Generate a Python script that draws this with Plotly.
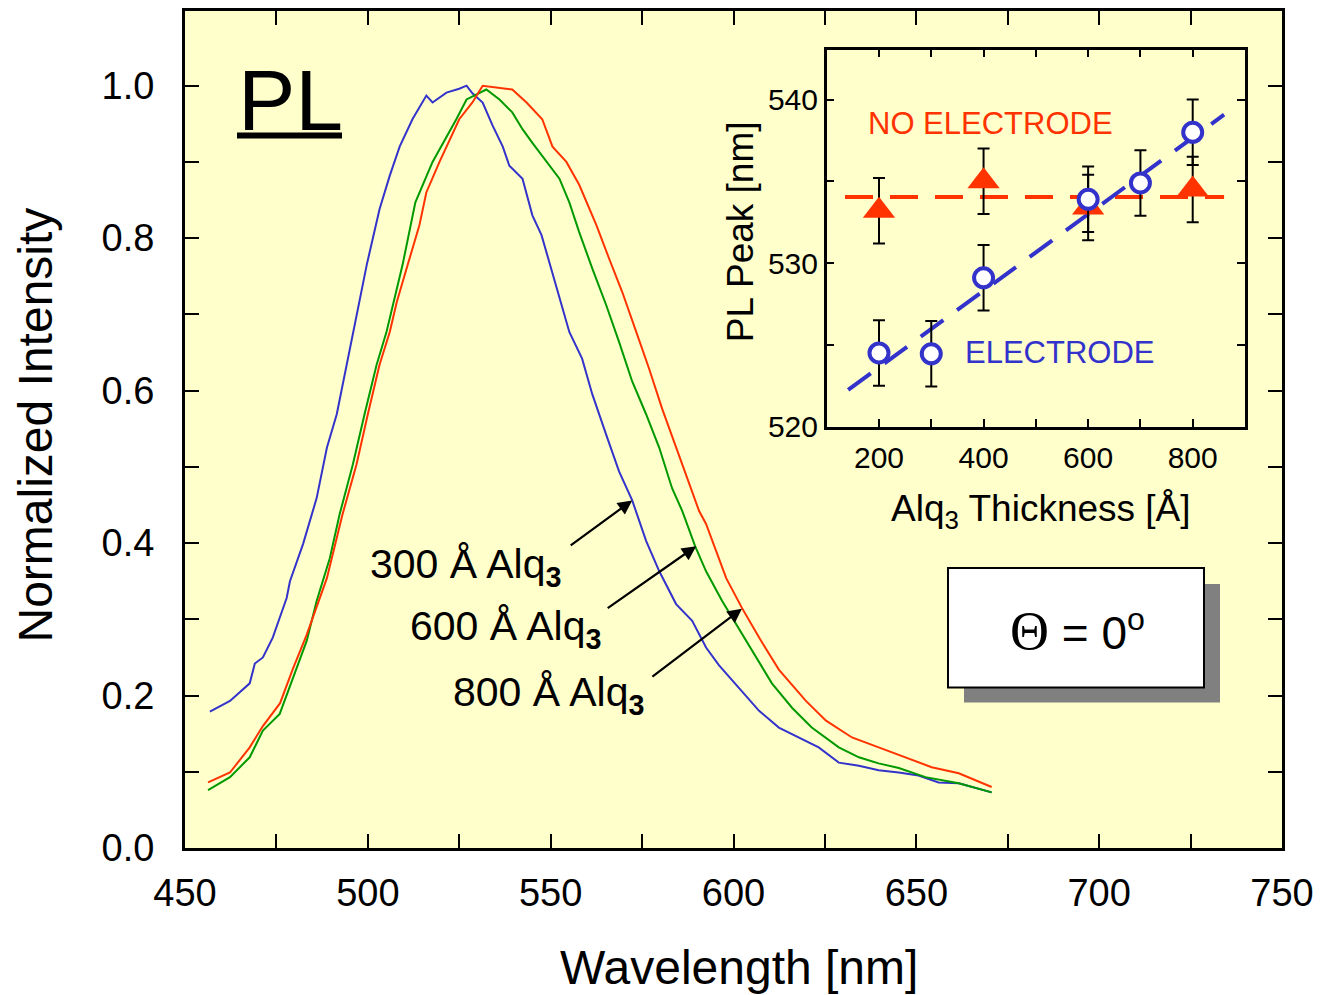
import plotly.graph_objects as go

# ---------------- data ----------------
wl_300 = [456.8, 462.3, 467.7, 469.1, 471.3, 474.0, 475.9, 477.8, 478.7, 482.3, 486.0, 488.8, 491.5,
          494.2, 496.9, 499.7, 503.2, 506.0, 508.7, 512.2, 516.0, 517.7, 521.5, 525.0, 527.0, 528.6,
          531.4, 534.1, 536.9, 538.7, 542.3, 545.0, 547.5, 551.0, 555.1, 558.6, 561.4, 565.2, 568.7,
          572.3, 576.1, 579.7, 584.3, 588.7, 592.5, 596.0, 601.5, 607.0, 612.4, 617.9, 623.3, 628.8,
          634.3, 639.7, 645.2, 650.6, 656.1, 661.6, 670.6]
int_300 = [0.179, 0.193, 0.216, 0.242, 0.250, 0.276, 0.302, 0.328, 0.350, 0.399, 0.459, 0.525, 0.569,
           0.634, 0.699, 0.765, 0.838, 0.882, 0.920, 0.956, 0.987, 0.978, 0.991, 0.996, 1.000, 0.990,
           0.978, 0.948, 0.920, 0.895, 0.878, 0.830, 0.804, 0.745, 0.677, 0.642, 0.595, 0.542, 0.494,
           0.456, 0.403, 0.363, 0.320, 0.298, 0.263, 0.240, 0.210, 0.180, 0.158, 0.145, 0.132, 0.112,
           0.108, 0.102, 0.099, 0.095, 0.086, 0.085, 0.073]

wl_600 = [456.3, 462.3, 467.7, 471.3, 475.9, 479.5, 483.3, 486.0, 489.6, 492.3, 495.9, 499.1, 502.4,
          505.1, 509.5, 513.0, 517.7, 524.2, 527.0, 532.4, 536.0, 539.5, 542.3, 545.0, 548.8, 552.4,
          555.1, 557.8, 561.4, 565.2, 568.7, 572.3, 576.1, 579.7, 583.2, 586.0, 589.5, 592.5, 596.9,
          602.3, 606.0, 610.5, 616.0, 621.4, 628.8, 634.3, 639.7, 645.2, 652.5, 661.6, 670.6]
int_600 = [0.076, 0.093, 0.119, 0.154, 0.176, 0.224, 0.272, 0.324, 0.380, 0.438, 0.503, 0.569, 0.634,
           0.677, 0.765, 0.847, 0.900, 0.956, 0.982, 0.995, 0.982, 0.965, 0.943, 0.925, 0.900, 0.878,
           0.847, 0.808, 0.760, 0.712, 0.664, 0.612, 0.569, 0.525, 0.472, 0.442, 0.396, 0.363, 0.324,
           0.281, 0.250, 0.216, 0.184, 0.158, 0.132, 0.119, 0.111, 0.105, 0.093, 0.085, 0.073]

wl_800 = [456.3, 462.3, 467.7, 471.3, 476.0, 479.5, 483.3, 486.5, 488.8, 493.1, 496.9, 500.0, 503.2,
          506.0, 507.9, 510.9, 514.1, 516.0, 519.6, 525.0, 528.6, 531.4, 535.0, 539.5, 543.4, 547.7,
          550.5, 554.3, 557.8, 562.5, 566.0, 569.6, 573.4, 576.9, 580.5, 584.3, 587.9, 590.6, 592.5,
          598.0, 602.3, 607.0, 612.4, 619.8, 625.3, 632.4, 639.7, 647.1, 654.2, 661.6, 670.6]
int_800 = [0.086, 0.099, 0.132, 0.160, 0.190, 0.235, 0.280, 0.324, 0.354, 0.438, 0.503, 0.569, 0.634,
           0.677, 0.716, 0.765, 0.817, 0.860, 0.900, 0.956, 0.978, 1.000, 0.998, 0.995, 0.978, 0.956,
           0.920, 0.900, 0.870, 0.817, 0.773, 0.729, 0.677, 0.629, 0.576, 0.525, 0.476, 0.442, 0.425,
           0.354, 0.315, 0.276, 0.234, 0.193, 0.167, 0.145, 0.132, 0.119, 0.106, 0.098, 0.080]

# inset: PL peak vs Alq3 thickness
thick_electrode = [200, 300, 400, 600, 700, 800]
peak_electrode = [524.5, 524.45, 529.1, 533.9, 534.9, 538.0]
err_electrode = [2, 2, 2, 2, 2, 2]
thick_noelectrode = [200, 400, 600, 800]
peak_noelectrode = [533.2, 535.0, 533.4, 534.5]
err_noelectrode = [2, 2, 2, 2]
fit_noel_x = [135, 860]
fit_noel_y = [534.04, 534.04]
fit_el_x = [141, 860]
fit_el_y = [522.24, 539.08]

# curve labels: (arrow head wavelength, intensity) and text
label_texts = ["300 Å Alq<sub><b>3</b></sub>", "600 Å Alq<sub><b>3</b></sub>", "800 Å Alq<sub><b>3</b></sub>"]
arrow_heads_wl = [572.3, 589.8, 602.3]
arrow_heads_int = [0.456, 0.396, 0.314]

BLUE = "#3333CC"
GREEN = "#009900"
RED = "#FF3300"
FONT = "Arial, Liberation Sans, sans-serif"

W, H = 1322, 995
L, R, T, B = 185, 40, 8, 147
PW, PH = W - L - R, H - T - B


def px(x):
    return (x - L) / PW


def py(y):
    return (H - B - y) / PH


fig = go.Figure()
for wl, it, c in [(wl_300, int_300, BLUE), (wl_600, int_600, GREEN), (wl_800, int_800, RED)]:
    fig.add_trace(go.Scatter(x=wl, y=it, mode="lines", line=dict(color=c, width=2),
                             showlegend=False, xaxis="x", yaxis="y"))

# inset traces
fig.add_trace(go.Scatter(x=fit_noel_x, y=fit_noel_y, mode="lines",
                         line=dict(color=RED, width=4, dash="28px,17px"),
                         showlegend=False, xaxis="x2", yaxis="y2"))
fig.add_trace(go.Scatter(x=fit_el_x, y=fit_el_y, mode="lines",
                         line=dict(color=BLUE, width=4, dash="28px,17px"),
                         showlegend=False, xaxis="x2", yaxis="y2"))
fig.add_trace(go.Scatter(x=thick_noelectrode, y=peak_noelectrode, mode="markers",
                         marker=dict(symbol="triangle-up", size=28, color=RED, line=dict(width=0)),
                         error_y=dict(type="data", array=err_noelectrode, color="black", thickness=2, width=6),
                         showlegend=False, xaxis="x2", yaxis="y2"))
fig.add_trace(go.Scatter(x=thick_electrode, y=peak_electrode, mode="markers",
                         marker=dict(symbol="circle", size=19, color="white", line=dict(color=BLUE, width=4)),
                         error_y=dict(type="data", array=err_electrode, color="black", thickness=2, width=6),
                         showlegend=False, xaxis="x2", yaxis="y2"))

axis_common = dict(showline=True, linecolor="black", mirror="ticks", ticks="inside",
                   showgrid=False, zeroline=False, tickcolor="black")

inset_x0, inset_x1 = px(826.7), px(1245)
inset_y0, inset_y1 = py(425), py(46.7)

fig.update_layout(
    width=W, height=H,
    margin=dict(l=L, r=R, t=T, b=B),
    paper_bgcolor="white",
    plot_bgcolor="#FFFFCC",
    font=dict(family=FONT, color="black"),
    xaxis=dict(range=[450, 750], dtick=50, tick0=450, ticklen=14, tickwidth=2, linewidth=3,
               tickfont=dict(size=38), ticklabelstandoff=9,
               minor=dict(dtick=25, ticklen=14, tickwidth=2, ticks="inside", tickcolor="black"),
               **axis_common),
    yaxis=dict(range=[0, 1.098], dtick=0.2, tick0=0, tickformat=".1f", ticklen=14, tickwidth=2, linewidth=3,
               tickfont=dict(size=38), ticklabelstandoff=20,
               minor=dict(dtick=0.1, ticklen=14, tickwidth=2, ticks="inside", tickcolor="black"),
               **axis_common),
    xaxis2=dict(domain=[inset_x0, inset_x1], anchor="y2", range=[100, 900], dtick=200, tick0=200,
                ticklen=8, tickwidth=2, linewidth=2.5, tickfont=dict(size=30), ticklabelstandoff=3,
                minor=dict(dtick=100, ticklen=8, tickwidth=2, ticks="inside", tickcolor="black"),
                **axis_common),
    yaxis2=dict(domain=[inset_y0, inset_y1], anchor="x2", range=[520, 543.06], dtick=10, tick0=520,
                ticklen=8, tickwidth=2, linewidth=2.5, tickfont=dict(size=30), ticklabelstandoff=0,
                minor=dict(dtick=5, ticklen=8, tickwidth=2, ticks="inside", tickcolor="black"),
                **axis_common),
)

shapes = [
    # white inset background
    dict(type="rect", xref="x2 domain", yref="y2 domain", x0=0, x1=1, y0=0, y1=1,
         fillcolor="white", line=dict(width=0), layer="below"),
    # PL underline
    dict(type="line", xref="paper", yref="paper", x0=px(237), x1=px(342), y0=py(133), y1=py(133),
         line=dict(color="black", width=6)),
    # Theta box shadow and box
    dict(type="rect", xref="paper", yref="paper", x0=px(964), x1=px(1220), y0=py(702), y1=py(583),
         fillcolor="#808080", line=dict(width=0)),
    dict(type="rect", xref="paper", yref="paper", x0=px(948), x1=px(1204), y0=py(687), y1=py(567),
         fillcolor="white", line=dict(color="black", width=2)),
]
fig.update_layout(shapes=shapes)

ann = []
# axis titles
ann.append(dict(text="Wavelength [nm]", xref="paper", yref="paper", x=px(739), y=py(968),
                showarrow=False, font=dict(size=48), xanchor="center", yanchor="middle"))
ann.append(dict(text="Normalized Intensity", xref="paper", yref="paper", x=px(36), y=py(424),
                showarrow=False, font=dict(size=48), textangle=-90, xanchor="center", yanchor="middle"))
# PL
ann.append(dict(text="PL", xref="paper", yref="paper", x=px(290), y=py(97),
                showarrow=False, font=dict(size=86), xanchor="center", yanchor="middle"))
# curve labels
label_pos = [(368, 565), (408, 627), (451, 693)]
for t, (lx, ly) in zip(label_texts, label_pos):
    ann.append(dict(text=t, xref="paper", yref="paper", x=px(lx), y=py(ly + 1),
                    showarrow=False, font=dict(size=41), xanchor="left", yanchor="middle"))
tails = [(-63, 46), (-90, 63), (-91, 69)]
for hx, hy, (ax, ay) in zip(arrow_heads_wl, arrow_heads_int, tails):
    ann.append(dict(text="", x=hx, y=hy, xref="x", yref="y", ax=ax, ay=ay, showarrow=True,
                    arrowhead=2, arrowsize=1.3, arrowwidth=2.2, arrowcolor="black"))
# inset labels
ann.append(dict(text="NO ELECTRODE", xref="paper", yref="paper", x=px(866), y=py(121),
                showarrow=False, font=dict(size=31, color=RED), xanchor="left", yanchor="middle"))
ann.append(dict(text="ELECTRODE", xref="paper", yref="paper", x=px(963), y=py(351),
                showarrow=False, font=dict(size=31, color=BLUE), xanchor="left", yanchor="middle"))
ann.append(dict(text="Alq<sub>3</sub> Thickness [Å]", xref="paper", yref="paper", x=px(1041), y=py(510),
                showarrow=False, font=dict(size=37), xanchor="center", yanchor="middle"))
ann.append(dict(text="PL Peak [nm]", xref="paper", yref="paper", x=px(740), y=py(230),
                showarrow=False, font=dict(size=37), textangle=-90, xanchor="center", yanchor="middle"))
# Theta label
ann.append(dict(text="<span style=\"font-family:'Liberation Serif', 'DejaVu Serif', serif; font-size:54px\">Θ</span> = 0<sup>o</sup>",
                xref="paper", yref="paper", x=px(1077), y=py(630),
                showarrow=False, font=dict(size=46), xanchor="center", yanchor="middle"))
fig.update_layout(annotations=ann)

fig.write_html("out.html")
